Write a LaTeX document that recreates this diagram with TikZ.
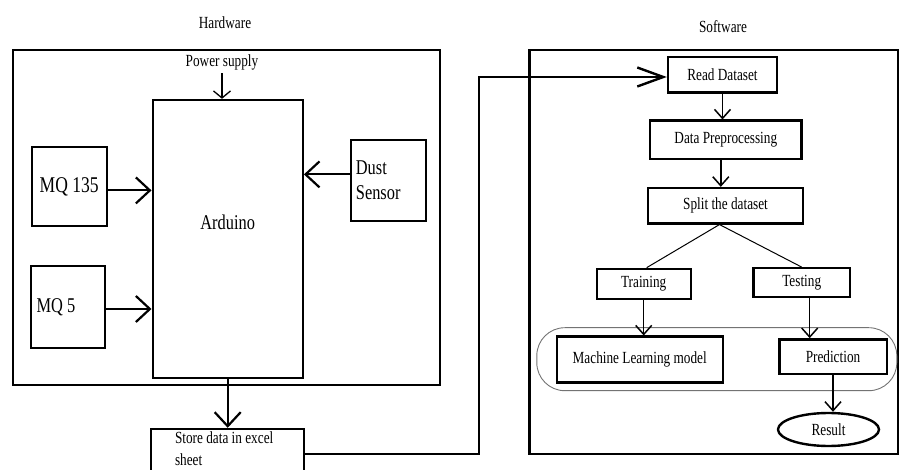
\documentclass[tikz,border=0pt]{standalone}
\usepackage{fontspec}
\setmainfont{Liberation Serif}[FakeStretch=0.78]
\usetikzlibrary{arrows.meta,shapes.geometric}
\begin{document}
\begin{tikzpicture}[x=1pt,y=-1pt,
  box/.style={draw, rectangle, line width=2.4pt, inner sep=0pt},
  bigfont/.style={font=\fontsize{21}{25}\selectfont},
  swfont/.style={font=\fontsize{17}{22}\selectfont},
  hwconn/.style={line width=2.2pt},
  swconn/.style={line width=1.5pt},
  bigtip/.style={-{Straight Barb[length=14pt,width=26pt]}},
  smalltip/.style={-{Straight Barb[length=9pt,width=16pt]}},
  longtip/.style={-{Straight Barb[length=26pt,width=19pt]}}
]
\useasboundingbox (0,0) rectangle (900,470);
\clip (0,0) rectangle (900,470);

% ---------------- Hardware ----------------
\node[swfont] (hwlabel) at (225,23) {Hardware};
\node[box, minimum width=427pt, minimum height=335pt] (hw) at (226.4,217.5) {};
\node[swfont] (power) at (222,62) {Power supply};
\node[box, minimum width=150pt, minimum height=278pt,
      label={[bigfont, yshift=17pt]center:Arduino}] (ard) at (227.7,239) {};
\node[box, minimum width=75pt, minimum height=79pt,
      font=\fontsize{22.5}{26}\selectfont] (mq135) at (69.2,186.4) {MQ 135};
\node[box, minimum width=74pt, minimum height=82pt,
      label={[bigfont, xshift=-12pt]center:MQ 5}] (mq5) at (68,307) {};
\node[box, minimum width=75pt, minimum height=81pt,
      label={[bigfont, anchor=west, align=left, inner sep=0pt, xshift=6pt]west:Dust\\Sensor}] (dust) at (388.4,180.4) {};
\node[box, minimum width=153pt, minimum height=62pt,
      label={[swfont, anchor=north west, align=left, inner sep=0pt, xshift=25pt, yshift=-4pt]north west:Store data in excel\\sheet}] (store) at (227.5,460) {};

\draw[line width=1.3pt, -{Straight Barb[length=7pt,width=17pt]}] (power.south) -- (power.south |- ard.north);
\draw[hwconn, bigtip] ([yshift=-4pt]mq135.east) -- ([yshift=-4pt]mq135.east -| ard.west);
\draw[hwconn, bigtip] ([yshift=-2pt]mq5.east) -- ([yshift=-2pt]mq5.east -| ard.west);
\draw[hwconn, bigtip] ([yshift=6pt]dust.west) -- ([yshift=6pt]dust.west -| ard.east);
\draw[hwconn, bigtip] (ard.south) -- (ard.south |- store.north);

% ---------------- Software ----------------
\node[swfont] (swlabel) at (723,27) {Software};
\node[box, minimum width=368.7pt, minimum height=404pt] (sw) at (713.7,252) {};
\node[box, swfont, minimum width=109pt, minimum height=35.4pt] (read) at (722.5,75) {Read Dataset};
\node[box, swfont, minimum width=151.7pt, minimum height=38.6pt] (prep) at (725.8,140) {Data Preprocessing};
\node[box, swfont, minimum width=155pt, minimum height=35.3pt] (split) at (725.5,205.7) {Split the dataset};
\node[box, swfont, minimum width=94pt, minimum height=30.3pt] (train) at (643.7,284) {Training};
\node[box, swfont, minimum width=96.7pt, minimum height=29pt] (test) at (801.7,282.8) {Testing};
\node[draw=black!55, line width=0.9pt, rounded corners=28pt, minimum width=360pt, minimum height=63pt] (grp) at (716.8,359.2) {};
\node[box, swfont, minimum width=166pt, minimum height=46pt] (ml) at (639.7,359.7) {Machine Learning model};
\node[box, swfont, minimum width=107.4pt, minimum height=34.7pt] (pred) at (833,356.7) {Prediction};
\node[draw, ellipse, line width=2.4pt, inner sep=0pt, minimum width=101pt, minimum height=33pt, swfont] (res) at (828.5,429.5) {Result};

\coordinate (j1) at (479,454);
\coordinate (j2) at (479,77);
\draw[line width=2.4pt, longtip] (store.east |- j1) -- (j1) -- (j2) -- (read.west |- j2);

\draw[swconn, smalltip] (read.south) -- (read.south |- prep.north);
\draw[swconn, smalltip] ([xshift=-5pt]prep.south) -- ([xshift=-5pt]prep.south |- split.north);
\draw[line width=1pt] ([xshift=-6pt]split.south) -- ([xshift=3pt]train.north);
\draw[line width=1pt] ([xshift=-6pt]split.south) -- (test.north);
\draw[swconn, smalltip] (train.south) -- (train.south |- ml.north);
\draw[swconn, smalltip] ([xshift=8pt]test.south) -- ([xshift=8pt]test.south |- pred.north);
\draw[swconn, smalltip] (pred.south) -- (pred.south |- res.north);
\end{tikzpicture}
\end{document}
